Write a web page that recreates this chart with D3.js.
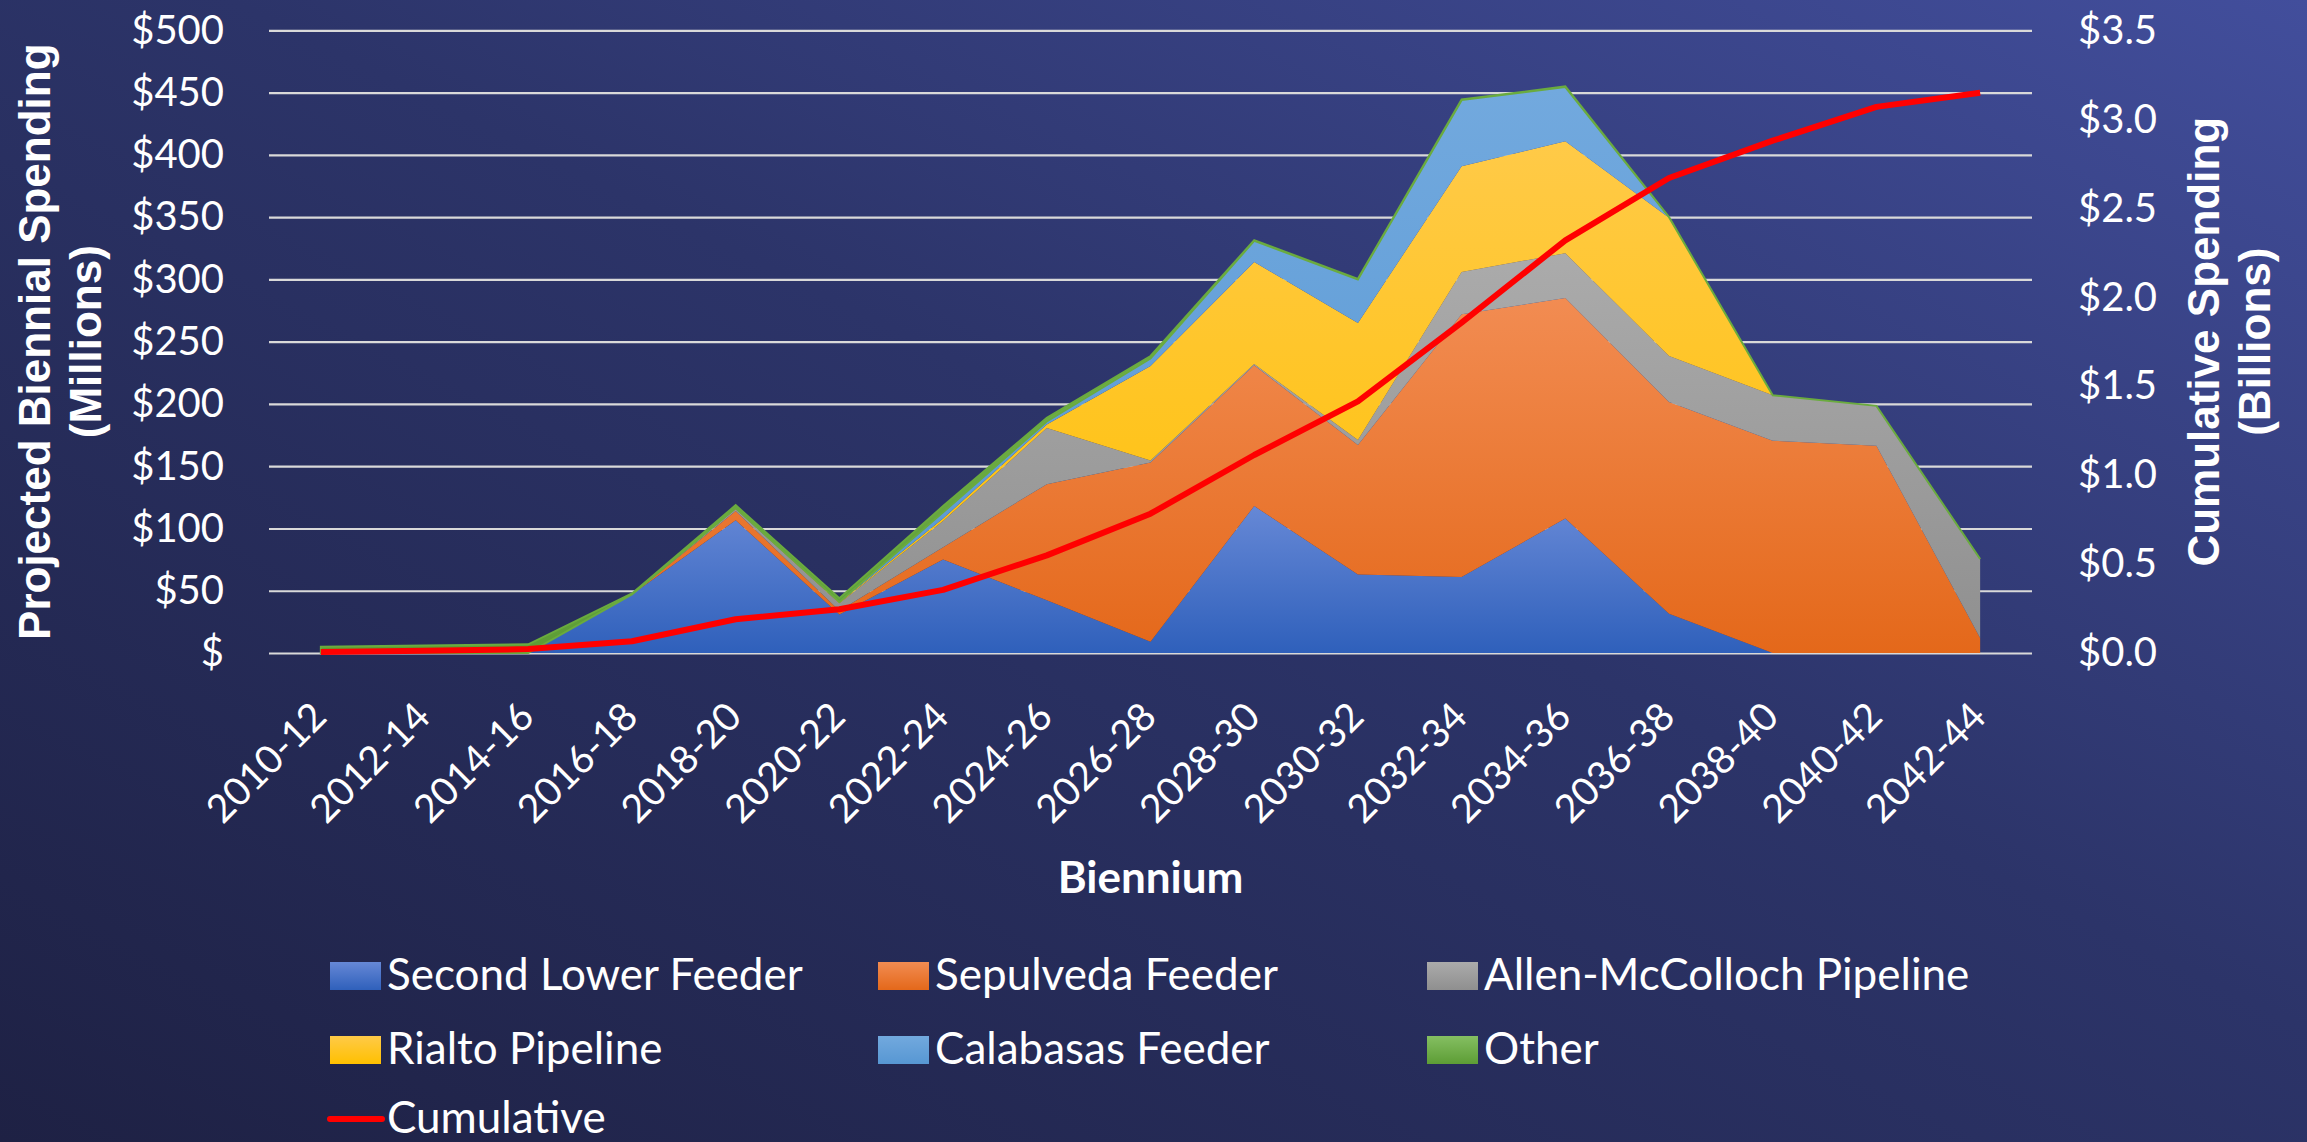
<!DOCTYPE html>
<html lang="en">
  <head>
    <meta charset="utf-8"/>
    <style>
      body {
        margin: 0;
        background: #252a55;
      }
      .tick text {
        font-family: Lato, "Open Sans", sans-serif;
        fill: #ffffff;
      }
      .axis-title {
        font-family: "Liberation Sans", Arial, sans-serif;
        font-weight: bold;
        fill: #ffffff;
      }
      .legend text {
        font-family: Lato, "Open Sans", sans-serif;
        fill: #ffffff;
      }
    </style>
    <script src="https://cdn.jsdelivr.net/npm/d3@7/dist/d3.min.js"></script>
  </head>
  <body>
    <script type="text/javascript">
      // chart data ($ millions per biennium)
      var categories = ["2010-12", "2012-14", "2014-16", "2016-18", "2018-20", "2020-22",
                        "2022-24", "2024-26", "2026-28", "2028-30", "2030-32", "2032-34",
                        "2034-36", "2036-38", "2038-40", "2040-42", "2042-44"];
      var secondLowerFeeder = [0, 0, 0, 47, 106.6, 31, 75, 42.4, 9, 118, 63, 61, 108, 31.5, 0, 0, 0];
      var sepulvedaFeeder = [0, 0, 0, 0, 7.4, 3, 10, 93.2, 144, 113, 104, 211, 177, 170, 170.5, 166.5, 12];
      var allenMcColloch = [0, 0, 0, 0, 1.5, 6, 21, 45, 1.5, 1, 4, 34, 36, 37, 36.5, 32, 63.5];
      var rialtoPipeline = [0, 0, 0, 0, 0.3, 0.5, 2, 3, 76, 82, 94, 85, 90, 111, 0, 0, 0];
      var calabasasFeeder = [0, 0, 0, 0, 0.6, 0.5, 5, 2.3, 6, 17, 35, 53, 43.5, 0.5, 0, 0, 0];
      var other = [5, 6, 7, 0.8, 2.3, 3, 5, 3, 2, 0.5, 0.5, 0.5, 0.5, 0, 0, 0, 0];
      // cumulative spending ($ billions)
      var cumulative = [0.005, 0.012, 0.022, 0.066, 0.19, 0.246, 0.355, 0.549, 0.783, 1.113,
                        1.415, 1.857, 2.32, 2.67, 2.88, 3.07, 3.15];

      var leftTicks = [0, 50, 100, 150, 200, 250, 300, 350, 400, 450, 500];
      var rightTicks = [0, 0.5, 1, 1.5, 2, 2.5, 3, 3.5];

      var seriesNames = ["Second Lower Feeder", "Sepulveda Feeder", "Allen-McColloch Pipeline",
                         "Rialto Pipeline", "Calabasas Feeder", "Other"];
      var seriesValues = [secondLowerFeeder, sepulvedaFeeder, allenMcColloch,
                          rialtoPipeline, calabasasFeeder, other];
      // [top colour, bottom colour] of each area's gradient
      var seriesColors = [["#6688d6", "#2f60bb"], ["#f28c52", "#e4681a"], ["#ababab", "#8f8f8f"],
                          ["#ffca48", "#ffc000"], ["#72a9de", "#5797d3"], ["#85bf62", "#5d9d35"]];

      var w = 2307;
      var h = 1142;
      var plotLeft = 269, plotRight = 2032, plotTop = 30.4, plotBottom = 653;

      var svg = d3.select("body")
                  .append("svg")
                  .attr("width", w)
                  .attr("height", h);

      var defs = svg.append("defs");

      // background gradient, dark bottom left to lighter top right
      var bg = defs.append("linearGradient")
                   .attr("id", "bg")
                   .attr("x1", 0).attr("y1", 1)
                   .attr("x2", 1).attr("y2", 0);
      bg.append("stop").attr("offset", "0%").attr("stop-color", "#1e2144");
      bg.append("stop").attr("offset", "55%").attr("stop-color", "#2c3469");
      bg.append("stop").attr("offset", "100%").attr("stop-color", "#424e9c");

      svg.append("rect")
         .attr("width", w)
         .attr("height", h)
         .attr("fill", "url(#bg)");

      seriesColors.forEach(function(c, i) {
        var g = defs.append("linearGradient")
                    .attr("id", "grad" + i)
                    .attr("x1", 0).attr("y1", 0)
                    .attr("x2", 0).attr("y2", 1);
        g.append("stop").attr("offset", "0%").attr("stop-color", c[0]);
        g.append("stop").attr("offset", "100%").attr("stop-color", c[1]);
      });

      // scales
      var xScale = d3.scaleBand()
                     .domain(categories)
                     .range([plotLeft, plotRight]);
      var xMid = function(c) { return xScale(c) + xScale.bandwidth() / 2; };
      var yScale = d3.scaleLinear()
                     .domain([0, 500])
                     .range([plotBottom, plotTop]);
      var y2Scale = d3.scaleLinear()
                      .domain([0, 3.5])
                      .range([plotBottom, plotTop]);

      // gridlines
      svg.append("g")
         .attr("class", "grid")
         .attr("transform", "translate(" + plotLeft + ",0)")
         .call(d3.axisLeft(yScale)
                 .tickValues(leftTicks)
                 .tickSize(-(plotRight - plotLeft))
                 .tickFormat(""))
         .call(function(g) { g.select(".domain").remove(); })
         .selectAll("line")
         .attr("stroke", "#d9d9d9")
         .attr("stroke-width", 2.2);

      // stacked areas
      var table = categories.map(function(c, i) {
        var row = { cat: c };
        seriesNames.forEach(function(s, j) { row[s] = seriesValues[j][i]; });
        return row;
      });
      var stack = d3.stack().keys(seriesNames);
      var layers = stack(table);

      var area = d3.area()
                   .x(function(d) { return xMid(d.data.cat); })
                   .y0(function(d) { return yScale(d[0]); })
                   .y1(function(d) { return yScale(d[1]); });

      svg.append("g")
         .selectAll("path")
         .data(layers)
         .enter()
         .append("path")
         .attr("d", area)
         .attr("fill", function(d, i) { return "url(#grad" + i + ")"; })
         .attr("stroke", function(d, i) { return i == 5 ? "#6aab3e" : "none"; })
         .attr("stroke-width", 2);

      // cumulative line
      var line = d3.line()
                   .x(function(d, i) { return xMid(categories[i]); })
                   .y(function(d) { return y2Scale(d); });

      svg.append("path")
         .datum(cumulative)
         .attr("d", line)
         .attr("fill", "none")
         .attr("stroke", "#ff0000")
         .attr("stroke-width", 6)
         .attr("stroke-linejoin", "round");

      // left axis
      svg.append("g")
         .attr("transform", "translate(" + (plotLeft - 45) + ",0)")
         .call(d3.axisLeft(yScale)
                 .tickValues(leftTicks)
                 .tickSize(0)
                 .tickPadding(0)
                 .tickFormat(function(d) { return d == 0 ? "$" : "$" + d; }))
         .call(function(g) { g.select(".domain").remove(); })
         .selectAll("text")
         .attr("font-size", "40px");

      // right axis
      svg.append("g")
         .attr("transform", "translate(" + (plotRight + 46) + ",0)")
         .call(d3.axisRight(y2Scale)
                 .tickValues(rightTicks)
                 .tickSize(0)
                 .tickPadding(0)
                 .tickFormat(function(d) { return "$" + d3.format(".1f")(d); }))
         .call(function(g) { g.select(".domain").remove(); })
         .selectAll("text")
         .attr("font-size", "40px");

      // x axis labels, rotated
      svg.append("g")
         .attr("transform", "translate(0," + plotBottom + ")")
         .call(d3.axisBottom(xScale).tickSize(0).tickPadding(0))
         .call(function(g) { g.select(".domain").remove(); })
         .selectAll("text")
         .attr("font-size", "39px")
         .attr("text-anchor", "end")
         .attr("dy", 0)
         .attr("transform", "translate(8,66) rotate(-45)");

      // axis titles
      svg.append("text")
         .attr("class", "axis-title")
         .attr("font-size", "44px")
         .attr("text-anchor", "middle")
         .attr("transform", "translate(50," + (plotTop + plotBottom) / 2 + ") rotate(-90)")
         .text("Projected Biennial Spending");
      svg.append("text")
         .attr("class", "axis-title")
         .attr("font-size", "44px")
         .attr("text-anchor", "middle")
         .attr("transform", "translate(101," + (plotTop + plotBottom) / 2 + ") rotate(-90)")
         .text("(Millions)");
      svg.append("text")
         .attr("class", "axis-title")
         .attr("font-size", "44px")
         .attr("text-anchor", "middle")
         .attr("transform", "translate(2219," + (plotTop + plotBottom) / 2 + ") rotate(-90)")
         .text("Cumulative Spending");
      svg.append("text")
         .attr("class", "axis-title")
         .attr("font-size", "44px")
         .attr("text-anchor", "middle")
         .attr("transform", "translate(2270," + (plotTop + plotBottom) / 2 + ") rotate(-90)")
         .text("(Billions)");

      svg.append("text")
         .attr("x", (plotLeft + plotRight) / 2)
         .attr("y", 893)
         .attr("text-anchor", "middle")
         .attr("font-family", "Lato, 'Open Sans', sans-serif")
         .attr("font-weight", "bold")
         .attr("font-size", "44px")
         .attr("fill", "#ffffff")
         .text("Biennium");

      // legend: three columns, areas then the line
      var legend = svg.append("g").attr("class", "legend");
      var colX = [330, 878, 1427];
      var rowY = [990, 1064, 1133];

      seriesNames.forEach(function(s, i) {
        var lx = colX[i % 3];
        var ly = rowY[Math.floor(i / 3)];
        legend.append("rect")
              .attr("x", lx)
              .attr("y", ly - 28)
              .attr("width", 51)
              .attr("height", 28)
              .attr("fill", "url(#grad" + i + ")");
        legend.append("text")
              .attr("x", lx + 57)
              .attr("y", ly)
              .attr("font-size", "44px")
              .text(s);
      });

      legend.append("line")
            .attr("x1", colX[0])
            .attr("x2", colX[0] + 52)
            .attr("y1", rowY[2] - 14)
            .attr("y2", rowY[2] - 14)
            .attr("stroke", "#ff0000")
            .attr("stroke-width", 6)
            .attr("stroke-linecap", "round");
      legend.append("text")
            .attr("x", colX[0] + 57)
            .attr("y", rowY[2])
            .attr("font-size", "44px")
            .text("Cumulative");
    </script>
  </body>
</html>
